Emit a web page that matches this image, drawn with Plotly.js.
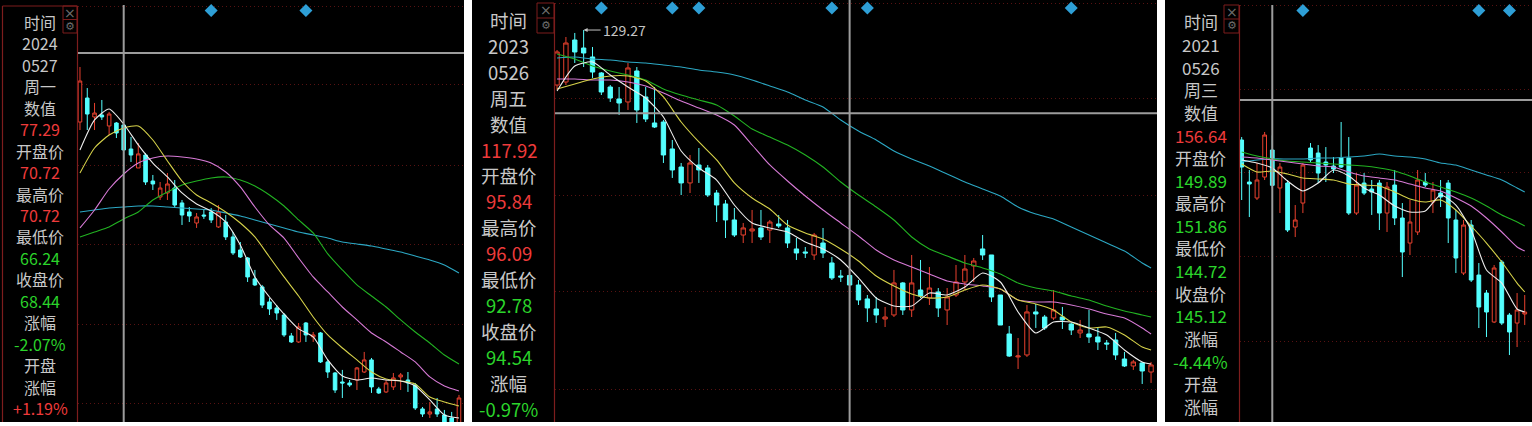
<!DOCTYPE html>
<html><head><meta charset="utf-8">
<script src="https://cdn.plot.ly/plotly-3.0.1.min.js"></script>
<style>html,body{margin:0;padding:0;background:#fff;overflow:hidden}#chart{width:1532px;height:426px}</style>
</head><body><div id="chart"></div>
<script>
// ---------------- Panel 1 (2024) ----------------
const open1=[70.99,73.18,71.45,71.63,70.63,70.90,70.72,68.53,66.80,67.98,65.61,64.15,64.52,64.97,63.61,62.79,61.78,62.51,62.79,61.42,61.87,60.51,59.32,58.59,56.68,55.95,54.58,54.03,53.39,51.48,50.93,52.66,51.39,51.75,49.11,48.10,47.28,47.19,47.46,48.19,49.29,46.64,46.37,46.83,47.74,47.46,47.01,44.82,44.36,44.82,44.27,44.00,43.36];
const high1=[76.01,74.09,72.73,73.00,71.91,70.99,70.72,69.63,69.08,68.17,66.16,65.52,66.34,65.70,63.88,63.24,62.69,62.97,63.15,63.42,62.51,60.96,60.05,58.68,57.50,56.13,54.94,54.30,53.57,51.75,52.66,52.75,51.84,51.84,49.29,48.19,48.38,47.46,48.65,50.02,49.47,46.83,47.46,48.10,48.10,48.19,47.19,45.00,45.46,45.82,44.73,44.55,46.10];
const low1=[70.26,70.26,70.26,71.18,69.81,69.53,66.24,67.35,66.80,65.25,64.79,63.88,63.88,63.24,61.60,61.87,61.33,62.15,61.78,61.33,60.23,58.86,58.59,56.40,56.04,54.03,53.39,52.94,51.39,50.84,50.84,50.93,50.93,49.01,47.65,46.28,45.82,46.83,46.55,48.10,46.28,46.19,46.28,46.55,46.55,46.37,44.73,44.09,44.00,44.09,43.36,43.09,43.09];
const close1=[74.73,71.72,71.81,71.45,71.72,69.99,68.44,67.98,68.08,65.52,65.34,64.97,65.34,63.42,62.51,62.42,62.33,62.42,62.06,62.79,60.51,59.05,58.68,56.86,56.13,54.30,53.94,53.57,51.57,50.93,52.30,51.57,51.57,49.11,48.19,46.55,47.19,47.01,48.56,49.29,46.83,46.28,47.19,47.65,47.92,47.19,44.91,44.36,44.55,44.36,43.63,43.36,45.82];
const maIdx1=[0,2,4,6,8,10,12,14,16,18,20,22,24,26,28,30,32,34,36,38,40,42,44,46,48,50,52];
const ma5_1=[68.44,71.18,72.18,70.81,68.90,67.25,65.98,64.52,63.52,62.88,61.87,59.78,56.86,55.03,53.48,52.12,51.39,49.29,47.83,47.46,47.65,47.46,47.37,46.92,45.64,44.27,44.00];
const ma10_1=[66.34,68.62,69.81,70.45,70.63,69.35,67.44,65.61,64.34,63.61,62.79,61.78,60.51,58.68,56.86,55.12,53.21,51.57,50.38,49.29,48.19,47.56,47.37,47.10,45.91,45.46,45.09];
const ma20_1=[61.33,62.97,64.88,66.25,67.25,67.71,67.89,67.80,67.62,67.25,66.43,65.07,63.24,61.60,60.41,58.59,56.86,55.49,54.12,52.94,51.75,50.93,50.02,49.11,47.74,46.92,46.46];
const ma30_1=[60.51,60.96,61.42,62.15,62.79,63.88,64.61,65.25,65.61,65.89,65.98,65.70,65.16,64.34,63.33,62.06,60.87,58.96,57.50,56.13,55.12,54.12,52.94,51.84,50.84,49.74,48.92];
const ma60_1=[62.79,62.97,63.15,63.24,63.33,63.33,63.24,63.15,63.06,62.97,62.69,62.42,62.06,61.69,61.33,60.96,60.69,60.41,60.05,59.87,59.68,59.41,59.14,58.77,58.41,57.95,57.22];
const signals1=[18,31];
const info1=['时间','2024','0527','周一','数值','77.29','开盘价','70.72','最高价','70.72','最低价','66.24','收盘价','68.44','涨幅','-2.07%','开盘','涨幅','+1.19%'];
const info1Tone=['l','l','l','l','l','r','l','r','l','r','l','g','l','g','l','g','l','l','r'];
const cross1={idx:6,val:77.29};

// ---------------- Panel 2 (2023) ----------------
const open2=[121.78,122.19,127.91,126.82,125.60,123.42,121.51,119.88,119.47,123.69,120.15,116.61,116.74,113.07,110.61,108.44,110.89,110.48,107.07,105.58,103.40,101.35,101.90,102.31,102.03,102.85,102.31,99.45,99.04,98.63,100.26,97.54,95.77,95.84,94.54,92.64,91.27,89.91,90.46,94.82,91.14,93.86,92.77,93.59,91.14,93.18,94.95,97.13,99.45,98.63,93.18,87.87,84.74,85.01,90.87,90.18,90.05,90.18,89.23,88.01,87.87,87.46,86.64,87.05,84.46,83.51,83.92,82.69];
const high2=[126.55,128.32,128.87,129.27,126.96,123.55,121.78,121.51,124.78,124.23,121.51,121.51,117.02,114.29,111.16,112.25,113.20,110.89,107.48,106.12,105.03,102.99,104.76,104.76,103.40,104.08,103.40,100.94,99.72,101.63,102.31,98.36,96.59,96.09,95.22,93.18,92.91,91.55,96.59,94.95,98.63,97.95,96.99,94.13,94.13,97.27,98.63,98.22,101.35,98.63,93.18,88.96,87.32,91.82,91.96,90.46,93.86,91.55,89.37,89.78,91.14,88.82,87.05,88.01,85.42,84.33,84.06,84.06];
const low2=[121.10,121.78,124.78,124.23,122.74,120.42,119.47,117.70,118.38,116.61,116.74,115.93,111.16,109.12,106.80,107.07,108.44,106.53,103.12,100.94,101.08,100.26,100.26,100.67,100.26,102.31,99.58,97.95,98.22,97.95,98.22,95.22,94.95,92.78,91.82,89.50,89.37,88.82,90.18,90.46,90.18,92.77,91.82,90.18,89.09,92.91,93.86,94.95,97.95,92.23,89.09,84.74,83.10,84.74,88.69,88.41,89.78,88.55,87.73,87.32,86.64,85.69,85.69,84.33,83.37,82.97,81.06,81.20];
const close2=[126.28,127.50,126.28,126.14,123.55,120.83,120.01,119.33,124.10,118.38,117.15,116.06,112.25,110.21,108.44,111.16,110.21,106.80,105.44,103.40,101.35,102.31,102.17,101.08,103.12,102.58,100.26,98.90,98.90,101.35,98.90,95.50,95.63,94.54,92.50,91.41,90.46,90.18,94.82,91.14,94.82,93.04,94.13,91.41,92.91,94.95,96.72,97.81,98.63,92.91,89.09,84.87,84.87,90.87,90.59,88.69,91.14,89.78,88.41,88.41,87.46,86.78,86.51,85.01,83.51,84.06,82.83,83.65];
const maIdx2=[0,2,4,6,8,10,12,14,16,18,20,22,24,26,28,30,32,34,36,38,40,42,44,46,48,50,52,54,56,58,60,62,64,66,67];
const ma5_2=[120.97,124.37,124.92,123.15,121.51,120.01,117.42,112.79,110.48,108.84,105.44,102.99,102.31,101.76,100.40,99.45,97.95,95.50,92.77,91.68,91.68,93.45,93.18,94.27,96.18,94.95,90.87,88.01,89.50,89.50,88.69,87.73,85.69,84.06,83.78];
const ma10_2=[121.24,121.92,122.60,123.01,123.01,122.33,120.15,116.74,114.02,111.57,108.44,106.39,104.89,102.71,101.63,100.81,99.45,97.81,95.77,94.41,93.32,92.77,92.91,93.86,94.54,94.00,92.50,91.96,91.14,89.50,88.69,88.82,87.73,86.10,85.69];
const ma20_2=[122.60,122.60,122.46,122.46,122.19,121.65,120.69,119.60,118.65,117.69,116.33,113.61,110.89,108.71,106.66,104.76,102.99,101.22,99.31,97.95,96.99,96.04,95.09,94.68,94.41,94.00,92.50,92.23,92.23,91.82,91.27,90.59,90.05,88.69,87.87];
const ma30_2=[126.01,125.32,124.37,123.69,123.15,122.46,121.24,120.42,119.74,119.06,117.56,115.79,114.70,113.61,112.25,110.61,108.57,106.80,105.17,103.40,101.08,99.45,98.49,97.54,96.86,96.04,94.82,94.13,93.73,93.04,92.50,91.68,91.00,90.46,90.18];
const ma60_2=[125.46,125.60,125.32,125.19,124.92,124.78,124.51,124.23,123.83,123.55,123.15,122.46,121.65,120.83,119.74,118.79,117.02,115.52,114.29,112.79,111.70,110.75,109.66,108.57,107.62,106.66,105.17,104.21,103.53,102.44,101.35,100.26,99.17,97.54,96.86];
const signals2=[5,13,16,31,35,58];
const peak2={idx:3,val:129.27,label:'129.27'};
const info2=['时间','2023','0526','周五','数值','117.92','开盘价','95.84','最高价','96.09','最低价','92.78','收盘价','94.54','涨幅','-0.97%'];
const info2Tone=['l','l','l','l','l','r','l','r','l','r','l','g','l','g','l','g'];
const cross2={idx:33,val:117.92};

// ---------------- Panel 3 (2021) ----------------
const open3=[151.24,145.57,143.41,146.24,149.89,144.76,145.43,139.49,142.73,150.16,149.48,148.27,147.73,148.81,148.81,141.38,145.43,144.62,145.43,141.38,145.16,140.71,137.33,138.82,145.57,142.87,144.08,145.43,140.44,133.28,139.76,133.01,130.58,126.67,134.77,127.61,126.53,127.75];
const high3=[151.64,147.19,148.13,152.32,151.86,148.13,145.84,142.46,148.13,150.83,150.56,150.29,148.94,153.67,151.64,146.78,146.78,145.84,145.84,145.57,147.19,142.73,143.14,147.19,146.78,145.57,145.84,145.84,141.79,140.44,140.44,134.63,130.99,134.36,135.04,127.88,130.58,130.31];
const low3=[143.14,140.84,143.14,145.84,144.72,141.38,138.82,138.14,141.38,148.13,145.43,145.57,146.78,147.46,141.12,141.12,143.81,141.12,139.09,138.82,139.76,132.74,135.71,138.41,144.89,141.38,142.19,137.33,133.28,133.01,132.07,125.86,124.64,126.53,126.26,122.21,123.29,126.26];
const close3=[147.59,145.30,145.84,151.91,145.12,147.59,139.09,140.44,147.86,148.54,146.78,147.86,147.32,147.59,141.38,145.16,144.08,144.22,141.38,144.89,140.71,136.12,140.17,145.84,145.16,144.49,143.54,140.71,135.31,139.76,132.34,128.69,128.02,133.96,126.53,125.32,128.29,128.02];
const maIdx3=[0,2,4,6,8,10,12,14,16,18,20,22,24,26,28,30,32,34,36,37];
const ma5_3=[148.54,148.13,147.46,145.70,144.36,145.43,147.19,146.38,144.76,143.81,142.33,141.52,141.65,143.81,142.46,139.09,133.69,131.93,128.43,128.02];
const ma10_3=[148.00,146.92,147.06,146.65,146.11,145.98,145.84,145.30,145.16,145.03,144.22,143.27,142.87,143.14,141.79,139.63,137.33,134.77,131.93,130.72];
const ma20_3=[148.95,148.81,148.54,148.27,148.00,147.73,147.59,146.92,146.38,146.11,145.84,145.30,144.76,144.36,143.41,142.33,140.71,138.82,136.80,136.26];
const ma30_3=[149.62,149.08,148.68,148.41,148.27,148.13,148.00,147.86,147.73,147.46,147.06,146.38,145.57,144.89,144.22,143.41,142.33,141.12,140.17,139.63];
const ma60_3=[148.27,148.54,148.68,148.68,148.68,148.81,148.81,148.95,149.08,149.35,149.08,148.95,148.68,148.13,147.86,147.19,146.52,145.84,144.76,144.22];
const signals3=[8,31,35];
const info3=['时间','2021','0526','周三','数值','156.64','开盘价','149.89','最高价','151.86','最低价','144.72','收盘价','145.12','涨幅','-4.44%','开盘','涨幅'];
const info3Tone=['l','l','l','l','l','r','l','g','l','g','l','g','l','g','l','g','l','l'];
const cross3={idx:4,val:156.64};

// ---------------- drawing ----------------
const W=1532,H=426;
const px=x=>x/W, py=y=>1-y/H;
const FONT='"Noto Sans CJK SC","Noto Sans",sans-serif';
const TONE={l:'#c8c8c8',r:'#ee3b3b',g:'#2bd42b'};
const UP='#e8412e', DOWN='#54ffff';
const MA_COL=['#eeeeee','#d6d24a','#d77ad6','#22b322','#2ca8c4'];
const BORDER='#7d1d1d';

const panels=[
 {ax:'',o:open1,h:high1,l:low1,c:close1,mi:maIdx1,ma:[ma5_1,ma10_1,ma20_1,ma30_1,ma60_1],sig:signals1,
  xr:[-0.27,52.69],yr:[43.63,82.12],dom:[78,464],grid:[81.57,74.37,67.07,59.78,52.48,45.28],
  bg:[0,464],cross:cross1,crossTop:5,info:info1,tone:info1Tone,ix:40,iy0:22,istep:21.45,fs:16,
  border:77.5,box:[63,77,6,33]},
 {ax:'2',o:open2,h:high2,l:low2,c:close2,mi:maIdx2,ma:[ma5_2,ma10_2,ma20_2,ma30_2,ma60_2],sig:signals2,
  xr:[-0.23,67.67],yr:[75.88,133.36],dom:[555,1157],grid:[132.95,120.01,106.80,93.59,80.24],
  bg:[472,1157],cross:cross2,crossTop:0,info:info2,tone:info2Tone,ix:508.5,iy0:20,istep:25.9,fs:18.5,
  border:554.5,box:[537,554,3,33]},
 {ax:'3',o:open3,h:high3,l:low3,c:close3,mi:maIdx3,ma:[ma5_3,ma10_3,ma20_3,ma30_3,ma60_3],sig:signals3,
  xr:[-0.22,37.95],yr:[113.17,170.14],dom:[1240,1532],grid:[169.46,158.12,146.92,135.58,124.10],
  bg:[1165,1532],cross:cross3,crossTop:5,info:info3,tone:info3Tone,ix:1200.5,iy0:22,istep:22.6,fs:17,
  border:1239.5,box:[1224,1239,5,33]}
];

const traces=[], shapes=[], annotations=[];
const layout={width:W,height:H,margin:{l:0,r:0,t:0,b:0},paper_bgcolor:'#ffffff',plot_bgcolor:'#000000',
  showlegend:false,hovermode:false,shapes:shapes,annotations:annotations};

panels.forEach(p=>{
  const xa='x'+p.ax, ya='y'+p.ax;
  const idx=p.o.map((_,i)=>i);
  traces.push({type:'candlestick',x:idx,open:p.o,high:p.h,low:p.l,close:p.c,xaxis:xa,yaxis:ya,
    whiskerwidth:0,hoverinfo:'skip',
    increasing:{line:{color:UP,width:1},fillcolor:'#000000'},
    decreasing:{line:{color:DOWN,width:1},fillcolor:DOWN}});
  p.ma.slice().reverse().forEach((m,k)=>{
    const col=MA_COL[4-k];
    traces.push({type:'scatter',mode:'lines',x:p.mi,y:m,xaxis:xa,yaxis:ya,hoverinfo:'skip',
      line:{color:col,width:1.1,shape:'spline',smoothing:0.6}});
  });
  const topVal=p.yr[1]-(p.yr[1]-p.yr[0])*(p.ax==='2'?8:10.5)/422;
  traces.push({type:'scatter',mode:'markers',x:p.sig,y:p.sig.map(()=>topVal),xaxis:xa,yaxis:ya,hoverinfo:'skip',
    marker:{symbol:'diamond',size:10,color:'#2e9fd6'}});
  layout['xaxis'+p.ax]={domain:[px(p.dom[0]),px(p.dom[1])],range:p.xr,anchor:ya,showgrid:false,zeroline:false,
    showticklabels:false,ticks:'',showline:false,fixedrange:true,rangeslider:{visible:false}};
  layout['yaxis'+p.ax]={domain:[py(422),1],range:p.yr,anchor:xa,tickvals:p.grid,showticklabels:false,ticks:'',
    showgrid:true,gridcolor:'#571212',griddash:'1px,3px',gridwidth:1,zeroline:false,showline:false,fixedrange:true};
  shapes.push({type:'rect',xref:'paper',yref:'paper',x0:px(p.bg[0]),x1:px(p.bg[1]),y0:py(422),y1:1,
    fillcolor:'#000000',line:{width:0},layer:'below'});
  shapes.push({type:'line',xref:'paper',yref:'paper',x0:px(p.border),x1:px(p.border),y0:py(p.box[2]),y1:py(422),
    line:{color:BORDER,width:1.2}});
  shapes.push({type:'rect',xref:'paper',yref:'paper',x0:px(p.box[0]),x1:px(p.box[1]),y0:py(p.box[3]),y1:py(p.box[2]),
    line:{color:BORDER,width:1}});
  shapes.push({type:'line',xref:'paper',yref:'paper',x0:px(p.box[0]),x1:px(p.box[1]),
    y0:py((p.box[2]+p.box[3])/2),y1:py((p.box[2]+p.box[3])/2),line:{color:BORDER,width:1}});
  annotations.push({xref:'paper',yref:'paper',x:px((p.box[0]+p.box[1])/2),y:py(p.box[2]+(p.box[3]-p.box[2])/4),
    text:'×',showarrow:false,font:{family:'DejaVu Sans',size:14,color:'#6e6e6e'},xanchor:'center',yanchor:'middle'});
  annotations.push({xref:'paper',yref:'paper',x:px((p.box[0]+p.box[1])/2),y:py(p.box[2]+3*(p.box[3]-p.box[2])/4),
    text:'⚙',showarrow:false,font:{family:'DejaVu Sans',size:11,color:'#6e6e6e'},xanchor:'center',yanchor:'middle'});
  shapes.push({type:'line',xref:xa,yref:'paper',x0:p.cross.idx,x1:p.cross.idx,y0:py(p.crossTop),y1:py(422),
    line:{color:'#9c9c9c',width:2}});
  shapes.push({type:'line',xref:'paper',yref:ya,x0:px(p.dom[0]),x1:px(p.dom[1]),y0:p.cross.val,y1:p.cross.val,
    line:{color:'#9c9c9c',width:2}});
  p.info.forEach((t,i)=>{
    annotations.push({xref:'paper',yref:'paper',x:px(p.ix),y:py(p.iy0+i*p.istep),text:t,showarrow:false,
      xanchor:'center',yanchor:'middle',font:{family:FONT,size:p.fs,color:TONE[p.tone[i]]}});
  });
});
shapes.push({type:'line',xref:'paper',yref:'paper',x0:px(2.5),x1:px(2.5),y0:py(6),y1:py(422),line:{color:BORDER,width:1.2}});
shapes.push({type:'line',xref:'paper',yref:'paper',x0:px(2.5),x1:px(77.5),y0:py(6),y1:py(6),line:{color:BORDER,width:1.2}});
annotations.push({xref:'x2',yref:'y2',x:peak2.idx,y:peak2.val,text:peak2.label,showarrow:true,ax:17,ay:0,
  xanchor:'left',arrowhead:2,arrowsize:0.8,arrowwidth:1,arrowcolor:'#c4c4c4',
  font:{family:FONT,size:14,color:'#c4c4c4'}});

Plotly.newPlot('chart',traces,layout,{staticPlot:true,displayModeBar:false});
</script></body></html>
